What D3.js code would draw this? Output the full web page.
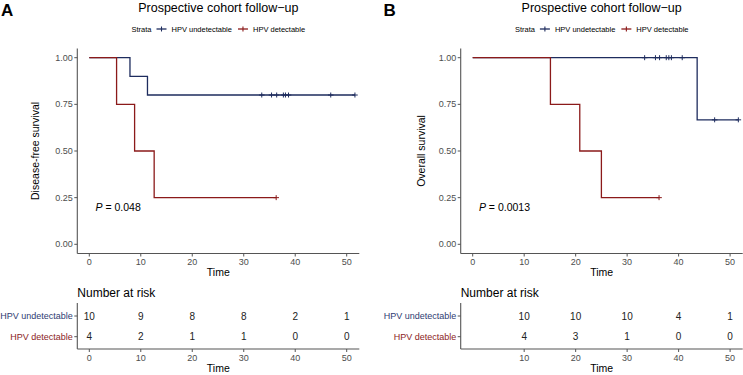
<!DOCTYPE html>
<html>
<head>
<meta charset="utf-8">
<script src="https://cdn.jsdelivr.net/npm/d3@7"></script>
<style>
  body { margin: 0; background: #fff; }
  text { font-family: "Liberation Sans", Arial, sans-serif; }
</style>
</head>
<body>
<div id="chart"></div>
<script>
const strata = ["HPV undetectable", "HPV detectable"];
const timeTicks = [0, 10, 20, 30, 40, 50];
const survTicks = [0, 0.25, 0.5, 0.75, 1];

// panel A: disease-free survival
const dfsUndetTimes = [0, 7.9, 11.3, 51.6];
const dfsUndetSurv = [1, 0.9, 0.8, 0.8];
const dfsUndetCensor = [33.5, 35.4, 36.4, 37.7, 38.1, 38.7, 46.9, 51.6];
const dfsDetTimes = [0, 5.3, 8.8, 12.6, 36.3];
const dfsDetSurv = [1, 0.75, 0.5, 0.25, 0.25];
const dfsDetCensor = [36.3];
const dfsRiskTimes = [0, 10, 20, 30, 40, 50];
const dfsRiskUndet = [10, 9, 8, 8, 2, 1];
const dfsRiskDet = [4, 2, 1, 1, 0, 0];

// panel B: overall survival
const osUndetTimes = [0, 43.6, 51.6];
const osUndetSurv = [1, 0.667, 0.667];
const osUndetCensor = [33.4, 35.5, 36.3, 37.6, 38.1, 38.6, 40.7, 47.0, 51.6];
const osDetTimes = [0, 15.1, 20.8, 25.0, 36.2];
const osDetSurv = [1, 0.75, 0.5, 0.25, 0.25];
const osDetCensor = [36.2];
const osRiskTimes = [10, 20, 30, 40, 50];
const osRiskUndet = [10, 10, 10, 4, 1];
const osRiskDet = [4, 3, 1, 0, 0];

const colors = { "HPV undetectable": "#1e2c5e", "HPV detectable": "#8b1a1a" };
const labelColors = { "HPV undetectable": "#2f3d72", "HPV detectable": "#8b2525" };
const axisColor = "#555";
const tickTextColor = "#4d4d4d";

const svg = d3.select("#chart").append("svg")
    .attr("width", 743)
    .attr("height", 375);

const panels = [
    {
        letter: "A", dx: 0, yLabel: "Disease-free survival", pText: "0.048",
        curves: [
            { name: strata[0], times: dfsUndetTimes, surv: dfsUndetSurv, censor: dfsUndetCensor },
            { name: strata[1], times: dfsDetTimes, surv: dfsDetSurv, censor: dfsDetCensor }
        ],
        riskTimes: dfsRiskTimes, risk: [dfsRiskUndet, dfsRiskDet]
    },
    {
        letter: "B", dx: 383.4, yLabel: "Overall survival", pText: "0.0013",
        curves: [
            { name: strata[0], times: osUndetTimes, surv: osUndetSurv, censor: osUndetCensor },
            { name: strata[1], times: osDetTimes, surv: osDetSurv, censor: osDetCensor }
        ],
        riskTimes: osRiskTimes, risk: [osRiskUndet, osRiskDet]
    }
];

function survAt(c, t) {
    const i = d3.bisectRight(c.times, t) - 1;
    return c.surv[Math.max(0, i)];
}

panels.forEach(p => {
    const g = svg.append("g").attr("transform", `translate(${p.dx},0)`);
    const left = 77.3, right = 359.3, top = 48.4, bottom = 253.5;

    const x = d3.scaleLinear().domain([0, 50]).range([89.3, 346.7]);
    const y = d3.scaleLinear().domain([0, 1]).range([244.3, 57.7]);

    // panel letter and title
    g.append("text").attr("x", p.letter === "A" ? 1 : 0).attr("y", 16)
        .style("font-size", "17px").style("font-weight", "bold").text(p.letter);
    g.append("text").attr("x", (left + right) / 2).attr("y", 12)
        .attr("text-anchor", "middle").style("font-size", "12.5px").text("Prospective cohort follow\u2212up");

    // legend
    const lg = g.append("g").attr("transform", "translate(131.5,29)");
    lg.append("text").attr("x", 0).attr("y", 2.8).style("font-size", "7.5px").text("Strata");
    let lx = 25;
    strata.forEach(s => {
        lg.append("line").attr("x1", lx).attr("x2", lx + 10).attr("y1", 0).attr("y2", 0)
            .attr("stroke", colors[s]).attr("stroke-width", 1.3);
        lg.append("line").attr("x1", lx + 5).attr("x2", lx + 5).attr("y1", -2.5).attr("y2", 2.5)
            .attr("stroke", colors[s]).attr("stroke-width", 1.1);
        const t = lg.append("text").attr("x", lx + 15).attr("y", 2.8).style("font-size", "7.5px").text(s);
        lx += 15 + t.node().getComputedTextLength() + 6;
    });

    // axes
    g.append("line").attr("x1", left).attr("x2", left).attr("y1", top).attr("y2", bottom)
        .attr("stroke", axisColor).attr("stroke-width", 1.1);
    g.append("line").attr("x1", left).attr("x2", right).attr("y1", bottom).attr("y2", bottom)
        .attr("stroke", axisColor).attr("stroke-width", 1.1);

    survTicks.forEach(v => {
        g.append("line").attr("x1", left - 3).attr("x2", left).attr("y1", y(v)).attr("y2", y(v))
            .attr("stroke", axisColor).attr("stroke-width", 1);
        g.append("text").attr("x", left - 4.5).attr("y", y(v) + 3.1).attr("text-anchor", "end")
            .style("font-size", "9px").style("fill", tickTextColor).text(d3.format(".2f")(v));
    });
    timeTicks.forEach(v => {
        g.append("line").attr("x1", x(v)).attr("x2", x(v)).attr("y1", bottom).attr("y2", bottom + 3)
            .attr("stroke", axisColor).attr("stroke-width", 1);
        g.append("text").attr("x", x(v)).attr("y", 264.5).attr("text-anchor", "middle")
            .style("font-size", "9px").style("fill", tickTextColor).text(v);
    });
    g.append("text").attr("x", (left + right) / 2).attr("y", 276).attr("text-anchor", "middle")
        .style("font-size", "10.5px").text("Time");
    g.append("text").attr("transform", `translate(${p.letter === "A" ? 38.5 : 42},${(top + bottom) / 2}) rotate(-90)`)
        .attr("text-anchor", "middle").style("font-size", "10.5px").text(p.yLabel);

    // survival curves
    const line = d3.line().x(d => x(d[0])).y(d => y(d[1])).curve(d3.curveStepAfter);
    p.curves.forEach(c => {
        g.append("path").datum(c.times.map((t, i) => [t, c.surv[i]]))
            .attr("d", line).attr("fill", "none")
            .attr("stroke", colors[c.name]).attr("stroke-width", 1.3);
        c.censor.forEach(t => {
            const cx = x(t), cy = y(survAt(c, t));
            g.append("path").attr("d", `M${cx - 2.8},${cy}H${cx + 2.8}M${cx},${cy - 2.5}V${cy + 2.5}`)
                .attr("stroke", colors[c.name]).attr("stroke-width", 1);
        });
    });

    // p value
    const pt = g.append("text").attr("x", 95.5).attr("y", 210.5).style("font-size", "10.5px");
    pt.append("tspan").style("font-style", "italic").text("P");
    pt.append("tspan").text(" = " + p.pText);

    // risk table
    const rTop = 303, rBottom = 349;
    const rowY = [316, 336.7];
    g.append("text").attr("x", left).attr("y", 297).style("font-size", "12px").text("Number at risk");
    g.append("line").attr("x1", left).attr("x2", left).attr("y1", rTop).attr("y2", rBottom)
        .attr("stroke", axisColor).attr("stroke-width", 1.1);
    g.append("line").attr("x1", left).attr("x2", right).attr("y1", rBottom).attr("y2", rBottom)
        .attr("stroke", axisColor).attr("stroke-width", 1.1);
    strata.forEach((s, i) => {
        g.append("line").attr("x1", left - 3).attr("x2", left).attr("y1", rowY[i]).attr("y2", rowY[i])
            .attr("stroke", axisColor).attr("stroke-width", 1);
        g.append("text").attr("x", left - 4.5).attr("y", rowY[i] + 3.2).attr("text-anchor", "end")
            .style("font-size", "9px").style("fill", labelColors[s]).text(s);
        p.riskTimes.forEach((t, j) => {
            g.append("text").attr("x", x(t)).attr("y", rowY[i] + 3.6).attr("text-anchor", "middle")
                .style("font-size", "10px").style("fill", "#222").text(p.risk[i][j]);
        });
    });
    p.riskTimes.forEach(v => {
        g.append("line").attr("x1", x(v)).attr("x2", x(v)).attr("y1", rBottom).attr("y2", rBottom + 3)
            .attr("stroke", axisColor).attr("stroke-width", 1);
        g.append("text").attr("x", x(v)).attr("y", 361).attr("text-anchor", "middle")
            .style("font-size", "9px").style("fill", tickTextColor).text(v);
    });
    g.append("text").attr("x", (left + right) / 2).attr("y", 372).attr("text-anchor", "middle")
        .style("font-size", "10.5px").text("Time");
});
</script>
</body>
</html>
